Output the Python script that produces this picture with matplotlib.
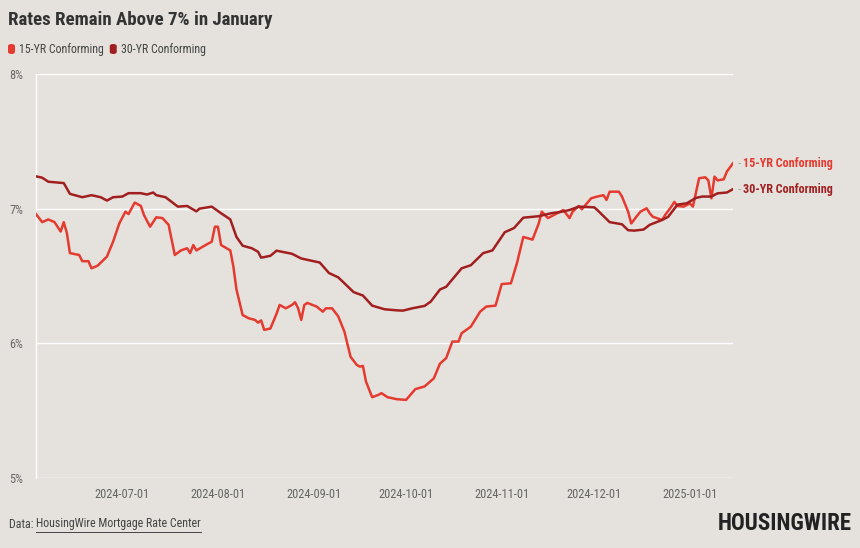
import numpy as np
import pandas as pd
import matplotlib
matplotlib.use('Agg')
import matplotlib.pyplot as plt
from matplotlib import font_manager as fm
from matplotlib.patches import FancyBboxPatch

BG='#e5e2de'
RED_15='#e53a2f'
RED_30='#a11f1f'
GRAY='#666666'
TITLE_COLOR='#333333'

#
# fonts: look for a condensed face, else fall back to Roboto
#
def _narrow(bold=False):
    want=['Roboto Condensed','Open Sans Condensed','Liberation Sans Narrow','DejaVu Sans','Noto Sans','Roboto','Open Sans']
    for fam in want:
        for f in fm.fontManager.ttflist:
            narrow=('ondensed' in str(f.stretch) or 'Narrow' in f.name or 'ondensed' in f.name
                    or 'ondensed' in f.fname or 'Narrow' in f.fname)
            if not narrow or not f.name.startswith(fam.split()[0]):
                continue
            isbold=(f.weight in ('bold',700,'700') or 'Bold' in f.fname)
            if isbold==bold and 'Italic' not in f.fname and 'Oblique' not in f.fname:
                return fm.FontProperties(fname=f.fname)
    return fm.FontProperties(family='Roboto',weight='bold' if bold else 'normal')

FP=_narrow(False)
FPB=_narrow(True)
NARROW_FOUND=FP.get_file() is not None

TITLE='Rates Remain Above 7% in January'
SERIES=['15-YR Conforming','30-YR Conforming']

dates_15=['2024-06-03','2024-06-05','2024-06-07','2024-06-09','2024-06-11','2024-06-12',
    '2024-06-13','2024-06-14','2024-06-17','2024-06-18','2024-06-20','2024-06-21',
    '2024-06-23','2024-06-26','2024-06-28','2024-06-30','2024-07-02','2024-07-03',
    '2024-07-05','2024-07-07','2024-07-08','2024-07-10','2024-07-12','2024-07-14',
    '2024-07-16','2024-07-18','2024-07-20','2024-07-22','2024-07-23','2024-07-24',
    '2024-07-25','2024-07-28','2024-07-30','2024-07-31','2024-08-01','2024-08-02',
    '2024-08-05','2024-08-06','2024-08-07','2024-08-09','2024-08-11','2024-08-13',
    '2024-08-14','2024-08-15','2024-08-16','2024-08-18','2024-08-20','2024-08-21',
    '2024-08-23','2024-08-25','2024-08-26','2024-08-27','2024-08-28','2024-08-29',
    '2024-08-30','2024-09-02','2024-09-04','2024-09-05','2024-09-07','2024-09-09',
    '2024-09-11','2024-09-13','2024-09-15','2024-09-16','2024-09-17','2024-09-18',
    '2024-09-20','2024-09-22','2024-09-23','2024-09-25','2024-09-28','2024-10-01',
    '2024-10-04','2024-10-07','2024-10-10','2024-10-12','2024-10-14','2024-10-16',
    '2024-10-18','2024-10-19','2024-10-22','2024-10-25','2024-10-27','2024-10-30',
    '2024-11-01','2024-11-04','2024-11-06','2024-11-08','2024-11-11','2024-11-13',
    '2024-11-14','2024-11-16','2024-11-19','2024-11-21','2024-11-23','2024-11-24',
    '2024-11-26','2024-11-27','2024-11-30','2024-12-02','2024-12-04','2024-12-05',
    '2024-12-06','2024-12-09','2024-12-10','2024-12-12','2024-12-13','2024-12-15',
    '2024-12-16','2024-12-18','2024-12-19','2024-12-20','2024-12-23','2024-12-24',
    '2024-12-26','2024-12-27','2024-12-28','2024-12-30','2025-01-01','2025-01-02',
    '2025-01-04','2025-01-06','2025-01-07','2025-01-08','2025-01-09','2025-01-10',
    '2025-01-12','2025-01-13','2025-01-15']
rates_15=[6.96,6.90,6.92,6.90,6.83,6.90,
    6.82,6.67,6.656,6.61,6.61,6.557,
    6.577,6.644,6.755,6.89,6.978,6.96,
    7.045,7.02,6.953,6.866,6.936,6.93,
    6.88,6.656,6.69,6.706,6.67,6.73,
    6.69,6.73,6.755,6.866,6.866,6.73,
    6.69,6.57,6.40,6.21,6.186,6.174,
    6.154,6.17,6.10,6.11,6.22,6.285,
    6.26,6.285,6.305,6.26,6.174,6.285,
    6.30,6.273,6.235,6.26,6.26,6.20,
    6.087,5.90,5.84,5.827,5.832,5.716,
    5.60,5.617,5.63,5.60,5.585,5.58,
    5.66,5.68,5.74,5.85,5.89,6.013,
    6.013,6.075,6.124,6.235,6.273,6.28,
    6.44,6.446,6.60,6.79,6.77,6.89,
    6.978,6.93,6.966,6.99,6.93,6.978,
    7.02,6.995,7.077,7.09,7.10,7.065,
    7.126,7.126,7.09,6.978,6.89,6.95,
    6.978,7.003,6.966,6.94,6.916,6.953,
    7.015,7.05,7.02,7.015,7.04,7.015,
    7.226,7.233,7.21,7.077,7.238,7.21,
    7.218,7.275,7.337]

dates_30=['2024-06-03','2024-06-05','2024-06-07','2024-06-12','2024-06-14','2024-06-18',
    '2024-06-21','2024-06-24','2024-06-26','2024-06-28','2024-07-01','2024-07-03',
    '2024-07-07','2024-07-09','2024-07-11','2024-07-12','2024-07-15','2024-07-19',
    '2024-07-22','2024-07-25','2024-07-26','2024-07-30','2024-08-02','2024-08-05',
    '2024-08-07','2024-08-09','2024-08-12','2024-08-14','2024-08-15','2024-08-18',
    '2024-08-20','2024-08-25','2024-08-28','2024-09-03','2024-09-06','2024-09-09',
    '2024-09-14','2024-09-17','2024-09-20','2024-09-24','2024-09-28','2024-09-30',
    '2024-10-03','2024-10-07','2024-10-09','2024-10-12','2024-10-14','2024-10-19',
    '2024-10-22','2024-10-26','2024-10-29','2024-11-02','2024-11-05','2024-11-08',
    '2024-11-13','2024-11-17','2024-11-20','2024-11-23','2024-11-26','2024-12-01',
    '2024-12-02','2024-12-06','2024-12-10','2024-12-12','2024-12-14','2024-12-17',
    '2024-12-19','2024-12-23','2024-12-25','2024-12-28','2024-12-31','2025-01-03',
    '2025-01-05','2025-01-08','2025-01-10','2025-01-13','2025-01-15']
rates_30=[7.24,7.23,7.20,7.19,7.11,7.085,
    7.10,7.085,7.06,7.085,7.09,7.115,
    7.115,7.105,7.12,7.10,7.085,7.015,
    7.02,6.98,7.00,7.015,6.966,6.92,
    6.79,6.725,6.706,6.68,6.636,6.65,
    6.688,6.665,6.63,6.60,6.522,6.49,
    6.38,6.355,6.28,6.253,6.245,6.243,
    6.26,6.278,6.31,6.40,6.42,6.557,
    6.58,6.67,6.69,6.825,6.856,6.933,
    6.944,6.966,6.975,6.99,7.015,7.01,
    6.99,6.90,6.884,6.84,6.837,6.845,
    6.88,6.916,6.94,7.03,7.04,7.08,
    7.09,7.09,7.114,7.12,7.145]

Y_TICKS=[5,6,7,8]
X_TICKS=['2024-07-01','2024-08-01','2024-09-01','2024-10-01','2024-11-01','2024-12-01','2025-01-01']
X_RANGE=['2024-06-03','2025-01-15']

# sizes shrink a bit when no condensed face is found
K=1.0 if NARROW_FOUND else 0.86

fig=plt.figure(figsize=(8.6,5.48),dpi=100,facecolor=BG)
ax=fig.add_axes([36/860,1-478/548,(733-36)/860,(478-74)/548])
ax.set_facecolor(BG)

s15=pd.Series(rates_15,index=pd.to_datetime(dates_15))
s30=pd.Series(rates_30,index=pd.to_datetime(dates_30))
ax.plot(s15.index,s15.values,color=RED_15,lw=1.8,solid_joinstyle='round',zorder=3)
ax.plot(s30.index,s30.values,color=RED_30,lw=1.8,solid_joinstyle='round',zorder=3)

ax.set_ylim(5,8)
ax.set_xlim(pd.to_datetime(X_RANGE[0]),pd.to_datetime(X_RANGE[1]))
ax.set_yticks(Y_TICKS)
ax.set_yticklabels(['{}%'.format(v) for v in Y_TICKS])
ax.set_xticks(pd.to_datetime(X_TICKS))
ax.set_xticklabels(X_TICKS)
ax.grid(axis='y',color='white',lw=1,zorder=0)
ax.set_axisbelow(True)
for side in ['top','right','bottom']:
    ax.spines[side].set_visible(False)
ax.spines['left'].set_color('white')
ax.spines['left'].set_linewidth(1)
ax.tick_params(axis='both',length=0,colors=GRAY)
ax.tick_params(axis='y',pad=9)
ax.tick_params(axis='x',pad=7)
for lab in ax.get_xticklabels()+ax.get_yticklabels():
    lab.set_fontproperties(FP)
    lab.set_fontsize(8.9*K)
    lab.set_color(GRAY)

# end labels
for s,name,color in [(s15,SERIES[0],RED_15),(s30,SERIES[1],RED_30)]:
    x,y=s.index[-1],s.values[-1]
    ax.annotate('-',xy=(x,y),xytext=(3,0),textcoords='offset points',
        va='center',ha='left',color='#999999',fontsize=7,annotation_clip=False)
    ax.annotate(name,xy=(x,y),xytext=(7,0),textcoords='offset points',
        va='center',ha='left',color=color,fontproperties=FPB,fontsize=8.7*K,
        annotation_clip=False)

# title + legend
fig.text(8/860,1-20/548,TITLE,fontproperties=FPB,fontsize=13.6*K,color=TITLE_COLOR,
    va='center',ha='left')
lx=8
for name,color in [(SERIES[0],RED_15),(SERIES[1],RED_30)]:
    fig.patches.append(FancyBboxPatch((lx/860,1-54/548),7/860,10/548,
        boxstyle='round,pad=0,rounding_size=0.004',transform=fig.transFigure,
        facecolor=color,edgecolor='none'))
    t=fig.text((lx+11)/860,1-49/548,name,fontproperties=FP,fontsize=8.6*K,color='#444444',
        va='center',ha='left')
    fig.canvas.draw()
    bb=t.get_window_extent()
    lx=bb.x1+6

# footer
t=fig.text(9/860,1-524/548,'Data: ',fontproperties=FP,fontsize=8.6*K,color='#444444',va='center',ha='left')
fig.canvas.draw()
bb=t.get_window_extent()
u=fig.text(bb.x1/860,1-524/548,'HousingWire Mortgage Rate Center',fontproperties=FP,
    fontsize=8.6*K,color='#444444',va='center',ha='left')
fig.canvas.draw()
ub=u.get_window_extent()
fig.add_artist(plt.Line2D([ub.x0/860,ub.x1/860],[(ub.y0-1)/548,(ub.y0-1)/548],
    transform=fig.transFigure,color='#444444',lw=0.7))
fig.text(852/860,1-523/548,'HOUSINGWIRE',fontproperties=FPB,fontsize=16.5*K,color='#222222',
    va='center',ha='right')

fig.savefig('out.png',dpi=100,facecolor=BG)
